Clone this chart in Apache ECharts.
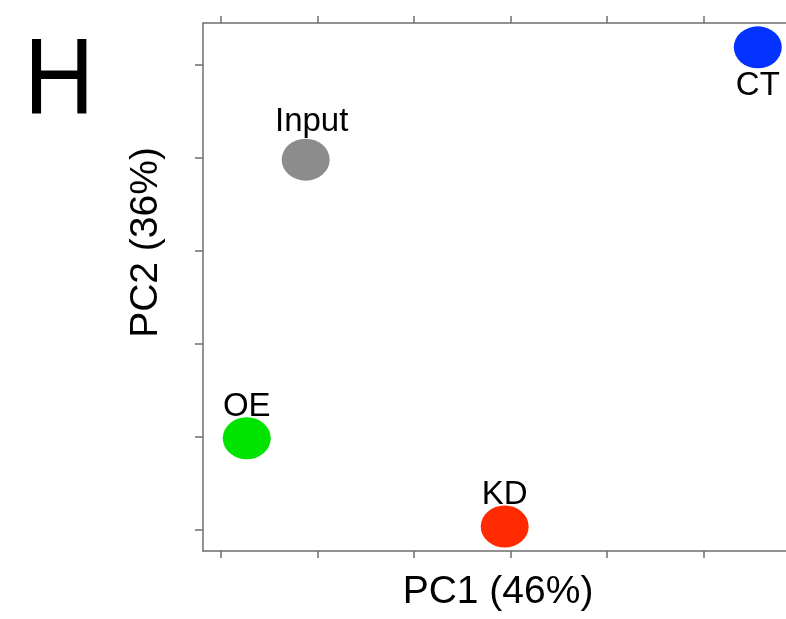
<!DOCTYPE html>
<html>
<head>
<meta charset="utf-8">
<title>PCA</title>
<script src="https://cdn.jsdelivr.net/npm/echarts@6/dist/echarts.min.js"></script>
<style>
  html, body { margin: 0; padding: 0; background: #ffffff; }
  #chart { width: 786px; height: 619px; }
</style>
</head>
<body>
<div id="chart"></div>
<script>
// Sample groups and their coordinates on the first two principal components
const samples = ['CT', 'Input', 'OE', 'KD'];
const pc1 = [5.56, 0.88, 0.27, 2.94];
const pc2 = [5.19, 3.98, 0.98, 0.03];
const sampleColors = ['#0433FF', '#8C8C8C', '#00E400', '#FF2A00'];
const labelSides = ['bottom', 'top', 'top', 'top'];

// Tick positions along each component
const pc1Ticks = [0, 1, 2, 3, 4, 5];
const pc2Ticks = [0, 1, 2, 3, 4, 5];

const axisGray = '#6e6e6e';
const font = '"Liberation Sans", Arial, Helvetica, sans-serif';

const points = samples.map((name, i) => ({
  name: name,
  value: [pc1[i], pc2[i]],
  itemStyle: { color: sampleColors[i], opacity: 1 },
  label: {
    position: labelSides[i],
    distance: labelSides[i] === 'top' ? -6 : 1,
    offset: name === 'Input' ? [6, -6] : [0, 0]
  }
}));

// Horizontal axis, drawn both below and above the plot; it has no right-hand border
const xBase = {
  type: 'value',
  min: -0.183,
  max: 5.852,
  splitLine: { show: false },
  axisLabel: { show: false },
  axisLine: { show: true, onZero: false, lineStyle: { color: axisGray, width: 1.5 } },
  axisTick: { show: true, inside: false, length: 7, customValues: pc1Ticks,
              lineStyle: { color: axisGray, width: 1.5 } }
};

const chart = echarts.init(document.getElementById('chart'), null, { renderer: 'canvas' });
chart.setOption({
  backgroundColor: '#ffffff',
  animation: false,
  graphic: [{
    type: 'text',
    x: 24,
    y: 30,
    scaleX: 0.91,
    style: { text: 'H', fontSize: 107, fontFamily: font, fill: '#000' }
  }],
  grid: { left: 203, top: 23, right: 0, bottom: 68, containLabel: false },
  xAxis: [
    Object.assign({}, xBase, {
      position: 'bottom',
      name: 'PC1 (46%)',
      nameLocation: 'middle',
      nameGap: 22,
      nameTextStyle: { fontSize: 39, color: '#000', fontFamily: font, padding: [0, 0, 0, 7] }
    }),
    Object.assign({}, xBase, { position: 'top' })
  ],
  yAxis: {
    type: 'value',
    min: -0.234,
    max: 5.452,
    name: 'PC2 (36%)',
    nameLocation: 'middle',
    nameRotate: 90,
    nameGap: 37,
    nameTextStyle: { fontSize: 39, color: '#000', fontFamily: font, padding: [0, 0, 0, 89] },
    splitLine: { show: false },
    axisLabel: { show: false },
    axisLine: { show: true, onZero: false, lineStyle: { color: axisGray, width: 1.5 } },
    axisTick: { show: true, inside: false, length: 8, customValues: pc2Ticks,
                lineStyle: { color: axisGray, width: 1.5 } }
  },
  series: [{
    type: 'scatter',
    xAxisIndex: 0,
    symbol: 'circle',
    symbolSize: [48, 42],
    data: points,
    label: {
      show: true,
      formatter: '{b}',
      color: '#000',
      fontSize: 33,
      fontFamily: font
    },
    emphasis: { disabled: true }
  }]
});
</script>
</body>
</html>
